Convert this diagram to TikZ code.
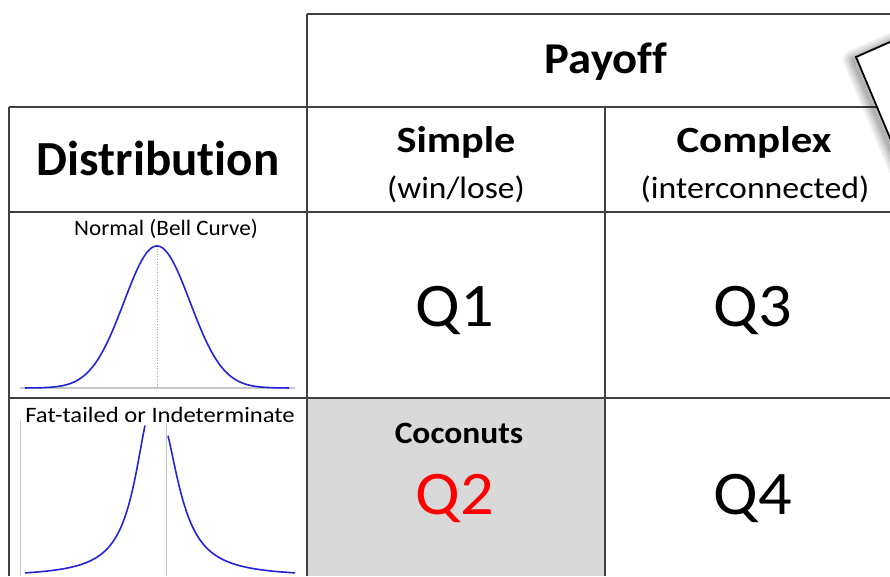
\documentclass[tikz,border=0pt]{standalone}
\usepackage{fontspec}
\setmainfont{Carlito}[Ligatures=NoCommon]
% horizontal stretch of a label
\newcommand\wider[2]{\scalebox{#1}[1]{#2}}
\begin{document}
\begin{tikzpicture}[x=1pt,y=-1pt,
  rule/.style={draw=black!75, line width=1.4pt},
  head/.style={font=\bfseries\fontsize{44}{44}\selectfont, anchor=base, inner sep=0pt},
  bighead/.style={font=\bfseries\fontsize{49}{49}\selectfont, anchor=base, inner sep=0pt},
  colhead/.style={font=\bfseries\fontsize{37}{37}\selectfont, anchor=base, inner sep=0pt},
  sub/.style={font=\fontsize{31}{31}\selectfont, anchor=base, inner sep=0pt},
  quad/.style={font=\fontsize{62}{62}\selectfont, anchor=base, inner sep=0pt},
  caption/.style={font=\fontsize{22}{22}\selectfont, anchor=base, inner sep=0pt},
  curve/.style={draw={rgb,255:red,35;green,35;blue,215}, line width=1.6pt},
  axis/.style={draw=black!22, line width=1.2pt},
  paperpath/.style={insert path={(856,57) -- (958,12) -- (1060,255) -- (958,300) -- cycle}}
]
\useasboundingbox (0,0) rectangle (890,576);

% shaded quadrant
\fill[black!15] (307,398) rectangle (605,576);

% table rules
\draw[rule] (307,14) -- (890,14);
\draw[rule] (9,107) -- (890,107);
\draw[rule] (9,212) -- (890,212);
\draw[rule] (9,398) -- (890,398);
\draw[rule] (9,107) -- (9,576);
\draw[rule] (307,14) -- (307,576);
\draw[rule] (605,107) -- (605,576);

% headers
\node[head] (payoff) at (606,73) {\wider{1.06}{Payoff}};
\node[bighead] (dist) at (158,175) {Distribution};
\node[colhead] (simple) at (456,152) {\wider{1.14}{Simple}};
\node[sub] (winlose) at (456,198) {\wider{1.08}{(win/lose)}};
\node[colhead] (complex) at (754,152) {\wider{1.16}{Complex}};
\node[sub] (inter) at (755,198) {\wider{1.09}{(interconnected)}};

% quadrants
\node[quad] (q1) at (455,326) {\wider{1.07}{Q1}};
\node[quad] (q3) at (753,326) {\wider{1.07}{Q3}};
\node[font=\bfseries\fontsize{31}{31}\selectfont, anchor=base, inner sep=0pt] (coco) at (459,443) {\wider{1.08}{Coconuts}};
\node[quad, text=red] (q2) at (455,514) {\wider{1.07}{Q2}};
\node[quad] (q4) at (753,514) {\wider{1.07}{Q4}};

% normal distribution
\node[caption] (normal) at (166,235) {\wider{1.05}{Normal (Bell Curve)}};
\draw[axis] (20,388) -- (295,388);
\draw[draw=black!35, line width=0.6pt, dotted] (157,246) -- (157,388);
\draw[curve] plot[domain=25:289, samples=160, smooth] (\x, {388-142*exp(-0.5*((\x-157)/33)^2)});

% fat-tailed distribution
\node[caption] (fat) at (160,422) {\wider{1.12}{Fat-tailed or Indeterminate}};
\draw[draw=black!22, line width=1pt] (20,421) -- (20,576);
\draw[draw=black!22, line width=1pt] (166,423) -- (166,576);
\draw[curve] plot[domain=25:145, samples=120, smooth] (\x, {577-170/(1+((\x-152)/20)^2)});
\draw[curve] plot[domain=168:295, samples=120, smooth] (\x, {577-160/(1+((\x-160)/22)^2)});

% note sheet at the corner, with a soft shadow
\begin{scope}
  \clip (0,0) rectangle (890,576);
  \foreach \w in {20,16,12,9,6,3}
    \draw[black, opacity=0.06, line width=\w pt, line join=round, shift={(-3,3)}, paperpath];
  \fill[white, paperpath];
  \draw[black, line width=1.8pt, line join=miter, paperpath];
\end{scope}
\end{tikzpicture}
\end{document}
